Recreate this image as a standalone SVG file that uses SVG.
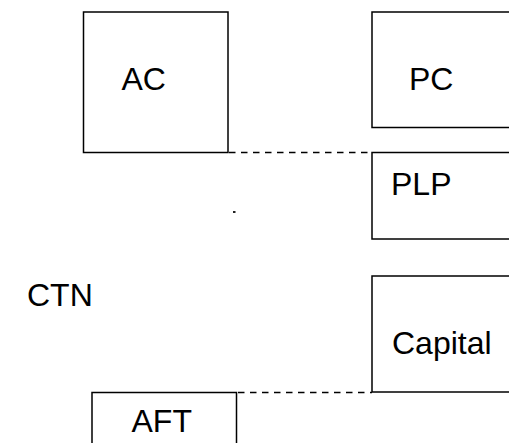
<svg xmlns="http://www.w3.org/2000/svg" width="509" height="443" viewBox="0 0 509 443">
<style>
.box{fill:none;stroke:#000;stroke-width:1.5}
.lbl{font-family:"Liberation Sans",Arial,sans-serif;font-size:32px;fill:#000}
.dash{stroke:#000;stroke-width:1.5;stroke-dasharray:6.5 5.5;fill:none}
</style>
<rect width="509" height="443" fill="#fff"/>
<g id="connectors">
<line class="dash" x1="229" y1="152.5" x2="372" y2="152.5"/>
<line class="dash" x1="238" y1="392.5" x2="372" y2="392.5"/>
</g>
<g id="AC"><rect class="box" x="83.5" y="12" width="144.5" height="140.5"/><text class="lbl" x="121.5" y="90">AC</text></g>
<g id="PC"><rect class="box" x="372" y="12" width="160" height="115.5"/><text class="lbl" x="409" y="90">PC</text></g>
<g id="PLP"><rect class="box" x="372" y="152.5" width="160" height="86.5"/><text class="lbl" x="391" y="195">PLP</text></g>
<g id="CTN"><text class="lbl" x="27" y="306">CTN</text></g>
<g id="Capital"><rect class="box" x="372" y="276" width="160" height="116"/><text class="lbl" x="392" y="354">Capital</text></g>
<g id="AFT"><rect class="box" x="92" y="392.5" width="144.5" height="70"/><text class="lbl" x="131.5" y="432">AFT</text></g>
<rect x="233" y="211" width="2.5" height="2" fill="#222"/>
</svg>
